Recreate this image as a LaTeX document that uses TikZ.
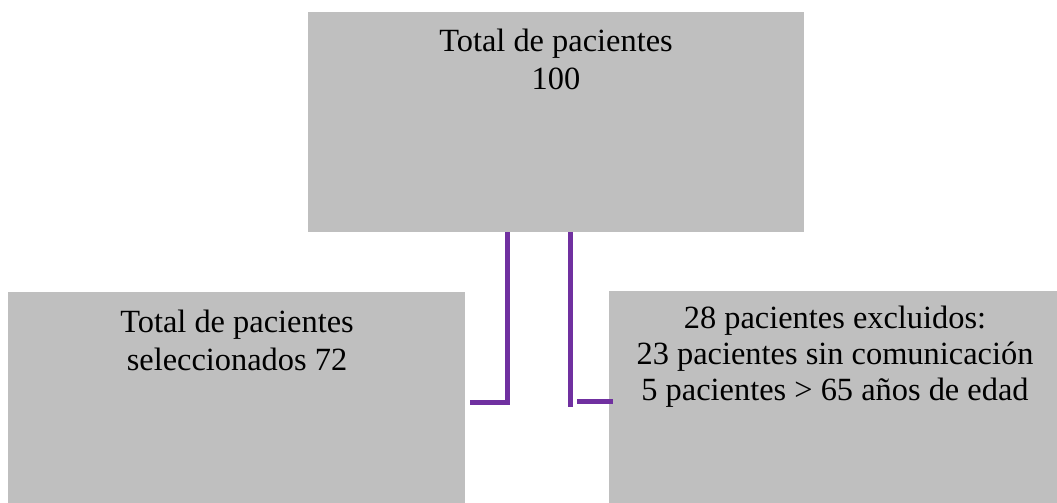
\documentclass[tikz,border=0pt]{standalone}
\usepackage{fontspec}
\setmainfont{Liberation Serif}
\definecolor{boxgray}{RGB}{191,191,191}
\definecolor{linkpurple}{RGB}{112,48,160}
\tikzset{
  greybox/.style={fill=boxgray, draw=none, inner sep=0pt, anchor=north west},
  boxtext/.style={anchor=base, inner sep=0pt, font=\fontsize{32.4}{37}\selectfont},
  link/.style={draw=linkpurple, line width=5pt}
}
\begin{document}
\begin{tikzpicture}[x=1pt,y=-1pt]
\useasboundingbox (0,0) rectangle (1057,503);
% boxes
\node[greybox, minimum width=496pt, minimum height=220pt] (top) at (308,12) {};
\node[greybox, minimum width=457pt, minimum height=211pt] (left) at (8,292) {};
\node[greybox, minimum width=449pt, minimum height=212pt] (right) at (609,291) {};
% texts
\node[boxtext] (toptext) at (556,52) {\renewcommand\arraystretch{1.027}\begin{tabular}[t]{@{}c@{}}Total de pacientes\\100\end{tabular}};
\node[boxtext] (lefttext) at (237,332) {\renewcommand\arraystretch{1.027}\begin{tabular}[t]{@{}c@{}}Total de pacientes\\seleccionados 72\end{tabular}};
\node[boxtext] (righttext) at (835,328) {\renewcommand\arraystretch{0.973}\begin{tabular}[t]{@{}c@{}}28 pacientes excluidos:\\23 pacientes sin comunicación\\5 pacientes > 65 años de edad\end{tabular}};
% connectors
\coordinate (lcorner) at (507.5,402.5);
\coordinate (lend) at (470,402.5);
\coordinate (rbottom) at (570.5,407);
\coordinate (rstart) at (577,401);
\draw[link] (top.south -| lcorner) -- (lcorner) -- (lend);
\draw[link] (top.south -| rbottom) -- (rbottom);
\draw[link] (rstart) -- (rstart -| right.west) -- ++(4,0);
\end{tikzpicture}
\end{document}
